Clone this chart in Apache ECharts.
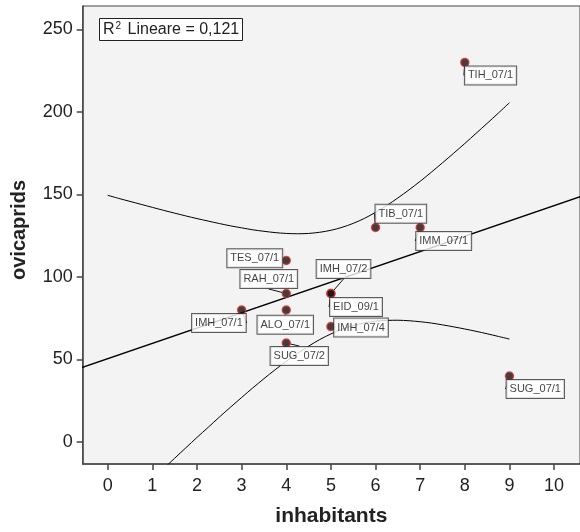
<!DOCTYPE html>
<html><head><meta charset="utf-8">
<script src="https://cdn.jsdelivr.net/npm/echarts@6/dist/echarts.min.js"></script>
<style>html,body{margin:0;padding:0;background:#fff}#c{width:580px;height:532px}</style>
</head><body><div id="c"></div>
<script>
// ---- data ----
var sites = ['TIH_07/1','TIB_07/1','IMM_07/1','TES_07/1','RAH_07/1','IMH_07/1','ALO_07/1','SUG_07/2','IMH_07/2','EID_09/1','IMH_07/4','SUG_07/1'];
var inhabitants = [8, 6, 7, 4, 4, 3, 4, 4, 5, 5, 5, 9];
var ovicaprids  = [230, 130, 130, 110, 90, 80, 80, 60, 90, 90, 70, 40];
// linear fit line (ends read at the plot edges)
var fitX = [-0.6, 10.6];
var fitY = [45.0, 148.8];
// 95% confidence band curves, read at quarter steps
var bandX = [0, 0.25, 0.5, 0.75, 1, 1.25, 1.5, 1.75, 2, 2.25, 2.5, 2.75, 3, 3.25, 3.5, 3.75, 4, 4.25, 4.5, 4.75, 5, 5.25, 5.5, 5.75, 6, 6.25, 6.5, 6.75, 7, 7.25, 7.5, 7.75, 8, 8.25, 8.5, 8.75, 9];
var upperBand = [149.5, 147.6, 145.8, 144.0, 142.2, 140.4, 138.7, 137.0, 135.4, 133.9, 132.4, 131.0, 129.8, 128.6, 127.7, 126.9, 126.4, 126.2, 126.4, 127.1, 128.3, 130.1, 132.5, 135.5, 139.2, 143.3, 147.9, 152.8, 158.0, 163.5, 169.2, 175.0, 180.9, 187.0, 193.1, 199.3, 205.6];
var lowerBand = [-48.4, -41.9, -35.4, -29.0, -22.5, -16.2, -9.8, -3.5, 2.8, 8.9, 15.1, 21.1, 27.0, 32.8, 38.4, 43.8, 48.9, 53.7, 58.1, 62.1, 65.5, 68.4, 70.6, 72.2, 73.2, 73.7, 73.8, 73.5, 72.9, 72.1, 71.0, 69.8, 68.5, 67.1, 65.6, 64.0, 62.4];
var xTicks = [0, 1, 2, 3, 4, 5, 6, 7, 8, 9, 10];
var yTicks = [0, 50, 100, 150, 200, 250];
var xName = 'inhabitants';
var yName = 'ovicaprids';
var r2Label = ' Lineare = 0,121';

// ---- label placement (styling, pixel offsets from each point) ----
var labelOffsets = [[25.7,13],[25.3,-13.8],[23.5,13.5],[-31.5,-2.2],[-17.5,-14.5],[-22.7,13],[-1,14.8],[13,13],[12.6,-24.5],[25.1,13.5],[30.1,1],[25.8,13]];

function zip(xs, ys){ return xs.map(function(x,i){ return [x, ys[i]]; }); }

var FONT = '"Liberation Sans", Arial, sans-serif';
var chart = echarts.init(document.getElementById('c'), null, {renderer:'canvas'});
var pts = inhabitants.map(function(x,i){ return {value:[x, ovicaprids[i]], name:sites[i]}; });

chart.setOption({
  animation: false,
  backgroundColor: '#ffffff',
  title: {
    text: '{a|R}{s|2}{a|' + r2Label + '}',
    left: 99, top: 18,
    padding: [3, 4, 2, 4],
    borderColor: '#222', borderWidth: 1, backgroundColor: '#ffffff',
    textStyle: {
      fontWeight: 'normal',
      rich: {
        a: {fontSize: 16, fontWeight: 'normal', fontFamily: FONT, color: '#222', lineHeight: 18},
        s: {fontSize: 10, fontWeight: 'normal', fontFamily: FONT, color: '#222', padding: [0, 2, 7, 1], lineHeight: 18}
      }
    }
  },
  grid: {
    left: 82.7, top: 6, right: -2, bottom: 68,
    show: true, backgroundColor: '#f3f3f3', borderColor: '#444', borderWidth: 1
  },
  xAxis: {
    type: 'value', min: -0.56, max: 10.58,
    name: xName, nameLocation: 'middle', nameGap: 42,
    nameTextStyle: {fontSize: 21, fontWeight: 'bold', fontFamily: FONT, color: '#222'},
    axisLine: {show: true, onZero: false, lineStyle: {color: '#444', width: 1.5}},
    axisTick: {show: true, length: 6, customValues: xTicks, lineStyle: {color: '#444', width: 1.5}},
    axisLabel: {customValues: xTicks, fontSize: 18, fontFamily: FONT, color: '#222', margin: 13},
    splitLine: {show: false}
  },
  yAxis: {
    type: 'value', min: -13.3, max: 264.2,
    name: yName, nameLocation: 'middle', nameGap: 53,
    nameTextStyle: {fontSize: 20, fontWeight: 'bold', fontFamily: FONT, color: '#222', padding: [0, 0, 0, 10]},
    axisLine: {show: true, onZero: false, lineStyle: {color: '#444', width: 1.5}},
    axisTick: {show: true, length: 6, customValues: yTicks, lineStyle: {color: '#444', width: 1.5}},
    axisLabel: {customValues: yTicks, fontSize: 18, fontFamily: FONT, color: '#222', margin: 10},
    splitLine: {show: false}
  },
  series: [
    {type: 'line', data: zip(fitX, fitY), symbol: 'none', clip: true,
     lineStyle: {color: '#000', width: 1.4}, silent: true, z: 2},
    {type: 'line', data: zip(bandX, upperBand), symbol: 'none', smooth: 0.3, clip: true,
     lineStyle: {color: '#000', width: 1}, silent: true, z: 2},
    {type: 'line', data: zip(bandX, lowerBand), symbol: 'none', smooth: 0.3, clip: true,
     lineStyle: {color: '#000', width: 1}, silent: true, z: 2},
    {type: 'scatter', data: pts, symbol: 'circle', symbolSize: 8, z: 3,
     itemStyle: {color: '#111', borderColor: '#e02a2a', borderWidth: 1.5},
     label: {
       show: true, position: 'inside', formatter: '{b}',
       fontSize: 11, fontFamily: FONT, color: '#111',
       backgroundColor: '#ffffff', borderColor: '#333', borderWidth: 1,
       padding: [4, 3, 3, 3]
     },
     labelLine: {show: true, lineStyle: {color: '#111', width: 1}},
     labelLayout: function(p){
       var o = labelOffsets[p.dataIndex];
       return {dx: o[0], dy: o[1]};
     }
    }
  ]
});
</script></body></html>
